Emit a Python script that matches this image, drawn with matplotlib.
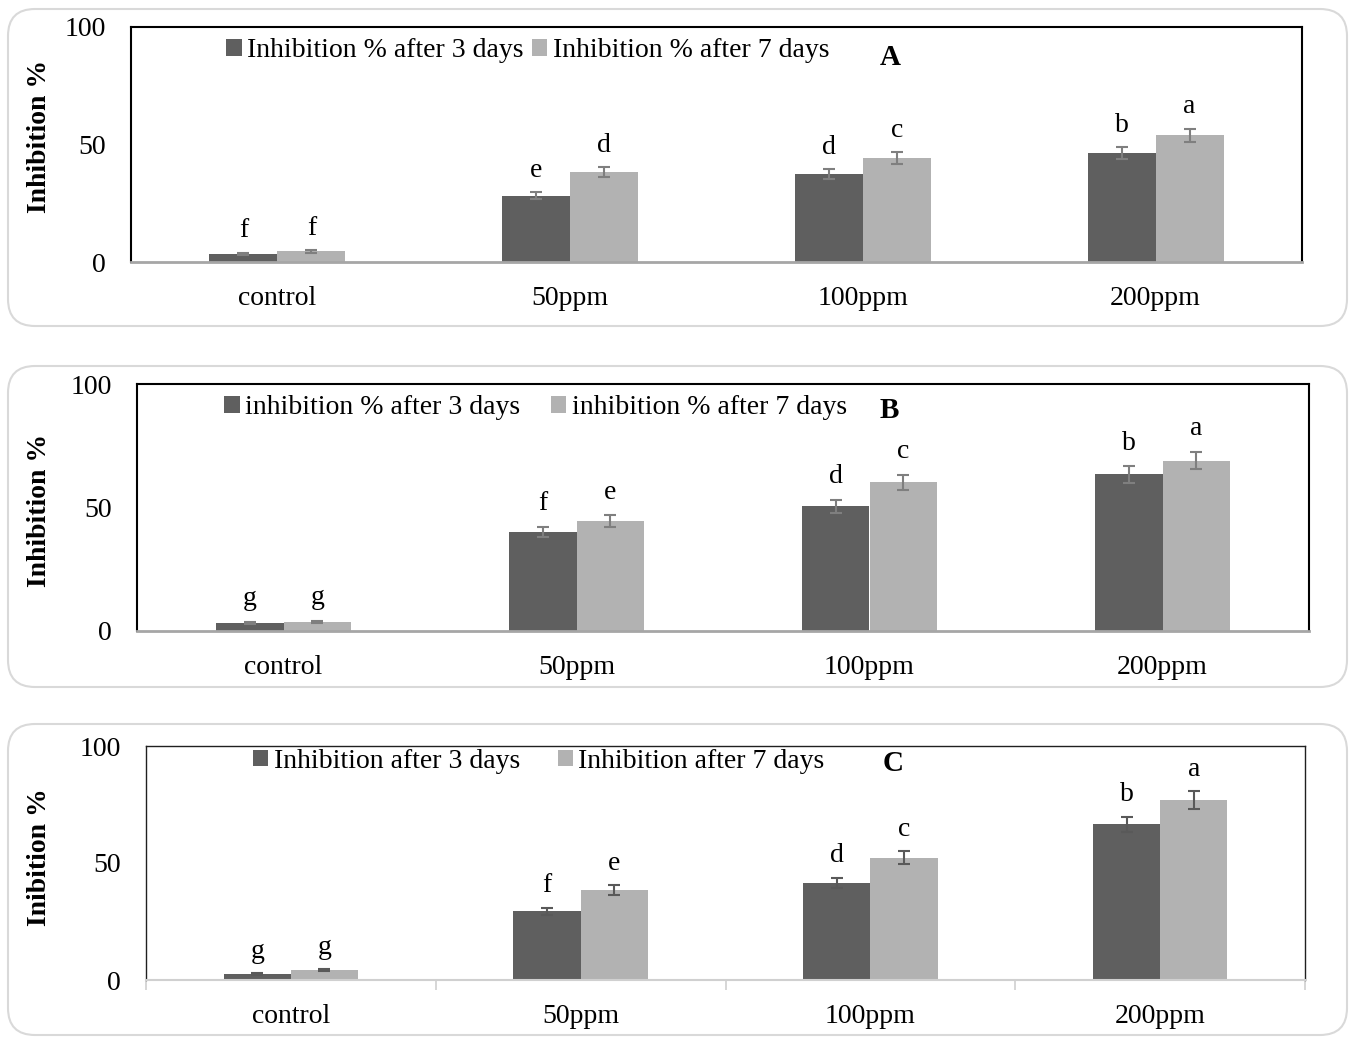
import matplotlib
matplotlib.use("Agg")
import matplotlib.pyplot as plt
from matplotlib.patches import FancyBboxPatch
import numpy as np

plt.rcParams['font.family'] = ['Liberation Serif', 'DejaVu Serif']

categories = ["control", "50ppm", "100ppm", "200ppm"]

# Panel A
a_day3 = [3.4, 28.2, 37.4, 46.3]
a_day7 = [4.5, 38.2, 44.3, 54.0]
a_err3 = [0.5, 1.6, 2.1, 2.5]
a_err7 = [0.5, 2.1, 2.4, 2.8]
a_let3 = ["f", "e", "d", "b"]
a_let7 = ["f", "d", "c", "a"]
a_leg = ["Inhibition % after 3 days", "Inhibition % after 7 days"]

# Panel B
b_day3 = [3.4, 40.2, 50.5, 63.4]
b_day7 = [3.8, 44.4, 60.2, 69.0]
b_err3 = [0.4, 2.0, 2.6, 3.3]
b_err7 = [0.4, 2.4, 3.1, 3.6]
b_let3 = ["g", "f", "d", "b"]
b_let7 = ["g", "e", "c", "a"]
b_leg = ["inhibition % after 3 days", "inhibition % after 7 days"]

# Panel C
c_day3 = [2.6, 29.4, 41.6, 66.5]
c_day7 = [4.3, 38.5, 52.3, 76.9]
c_err3 = [0.4, 1.5, 2.2, 3.3]
c_err7 = [0.4, 2.0, 2.8, 3.8]
c_let3 = ["g", "f", "d", "b"]
c_let7 = ["g", "e", "c", "a"]
c_leg = ["Inhibition after 3 days", "Inhibition after 7 days"]

yticks = [0, 50, 100]

W, H = 1349, 1038
fig = plt.figure(figsize=(W / 100, H / 100), dpi=100)

DARK = "#5f5f5f"
LIGHT = "#b2b2b2"
FS = 20

def box(y0, y1):
    p = FancyBboxPatch((8 / 100, (H - y1) / 100), (1347 - 8) / 100, (y1 - y0) / 100,
                       boxstyle="round,pad=0,rounding_size=0.27",
                       transform=fig.dpi_scale_trans, facecolor="none",
                       edgecolor="#d9d9d9", linewidth=1.5, zorder=-1)
    fig.patches.append(p)

def panel(l, r, t, b, d3, d7, e3, e7, l3, l7, leg, legpos, colsp, letter, letpos,
          ylab, ylab_y, style, errc):
    ax = fig.add_axes([l / W, (H - b) / H, (r - l) / W, (b - t) / H])
    ax.set_facecolor("none")
    x = np.arange(len(categories))
    w = 0.232
    ax.bar(x - w / 2, d3, w, color=DARK, label=leg[0], zorder=2)
    ax.bar(x + w / 2, d7, w, color=LIGHT, label=leg[1], zorder=2)
    ax.errorbar(x - w / 2, d3, yerr=e3, fmt="none", ecolor=errc, elinewidth=1.5,
                capsize=4.5, capthick=1.5, zorder=3)
    ax.errorbar(x + w / 2, d7, yerr=e7, fmt="none", ecolor=errc, elinewidth=1.5,
                capsize=4.5, capthick=1.5, zorder=3)
    for xi, v, e, s in zip(x - w / 2, d3, e3, l3):
        ax.text(xi, v + e + 9.3, s, ha="center", va="center", fontsize=FS)
    for xi, v, e, s in zip(x + w / 2, d7, e7, l7):
        ax.text(xi, v + e + 9.3, s, ha="center", va="center", fontsize=FS)
    ax.set_xlim(-0.5, len(categories) - 0.5)
    ax.set_ylim(0, 100)
    ax.set_yticks(yticks)
    ax.set_yticklabels([str(v) for v in yticks], fontsize=FS)
    ax.tick_params(axis="y", length=0, pad=18)
    ax.set_xticks(x)
    ax.set_xticklabels(categories, fontsize=FS)
    ax.tick_params(axis="x", which="major", length=0, pad=17.5)
    if style == "box":
        for s in ["top", "left", "right"]:
            ax.spines[s].set_color("black")
            ax.spines[s].set_linewidth(1.5)
        ax.spines["bottom"].set_color("#a6a6a6")
        ax.spines["bottom"].set_linewidth(2.0)
    else:
        for s in ["top", "left", "right"]:
            ax.spines[s].set_color("#202020")
            ax.spines[s].set_linewidth(1.0)
        ax.spines["bottom"].set_color("#d0d0d0")
        ax.spines["bottom"].set_linewidth(1.5)
        ax.set_xticks(np.arange(len(categories) + 1) - 0.5, minor=True)
        ax.tick_params(axis="x", which="minor", length=7, width=1.2,
                       color="#d0d0d0", direction="out")
    ax.legend(loc="center", bbox_to_anchor=legpos, ncol=2, frameon=False,
              fontsize=FS, handlelength=0.55, handleheight=0.55,
              handletextpad=0.2, columnspacing=colsp, borderpad=0)
    ax.text(letpos[0], letpos[1], letter, transform=ax.transAxes, fontsize=FS + 1,
            fontweight="bold", ha="center", va="center")
    fig.text(40 / W, (H - ylab_y) / H, ylab, rotation=90, fontsize=FS,
             fontweight="bold", ha="center", va="center")
    return ax

box(9, 326)
box(366, 687)
box(724, 1035)

panel(131, 1302, 27, 262, a_day3, a_day7, a_err3, a_err7, a_let3, a_let7,
      a_leg, (0.339, 0.9), 0.3, "A", (0.648, 0.872), "Inhibition %", 136,
      "box", "#7f7f7f")
panel(137, 1309, 384, 631, b_day3, b_day7, b_err3, b_err7, b_let3, b_let7,
      b_leg, (0.34, 0.905), 1.1, "B", (0.642, 0.891), "Inhibition %", 510,
      "box", "#7f7f7f")
panel(146, 1305, 746, 980, c_day3, c_day7, c_err3, c_err7, c_let3, c_let7,
      c_leg, (0.339, 0.935), 1.35, "C", (0.645, 0.927), "Inibition %", 857,
      "open", "#595959")

fig.savefig("out.png", dpi=100)
